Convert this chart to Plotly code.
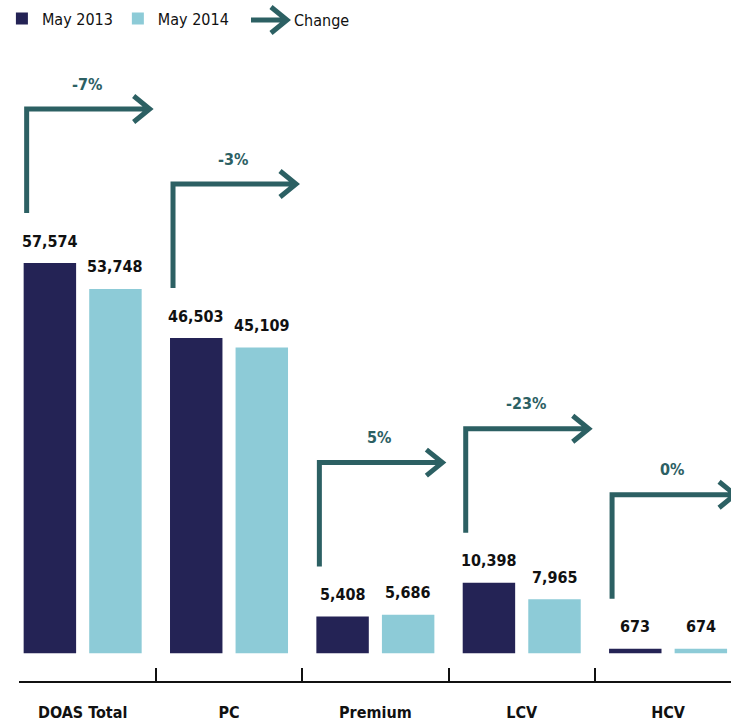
import plotly.graph_objects as go

categories = ["DOAS Total", "PC", "Premium", "LCV", "HCV"]
may_2013 = [57574, 46503, 5408, 10398, 673]
may_2014 = [53748, 45109, 5686, 7965, 674]
change_labels = ["-7%", "-3%", "5%", "-23%", "0%"]

NAVY = "#242355"
LIGHT = "#8dcbd7"
TEAL = "#2c6063"
FONT = "Liberation Sans Narrow, DejaVu Sans Condensed, Roboto, Arial Narrow, sans-serif"

x_idx = list(range(len(categories)))

fig = go.Figure()
fig.add_trace(go.Bar(x=x_idx, y=may_2013, name="May 2013", marker_color=NAVY,
                     marker_line_width=0))
fig.add_trace(go.Bar(x=x_idx, y=may_2014, name="May 2014", marker_color=LIGHT,
                     marker_line_width=0))

OFF = 0.224
ann = []
for i in x_idx:
    ann.append(dict(x=i - OFF, y=may_2013[i], text=f"<b>{may_2013[i]:,}</b>", showarrow=False,
                    yshift=22, font=dict(family=FONT, size=16, color="#111111"),
                    xref="x", yref="y"))
    ann.append(dict(x=i + OFF, y=may_2014[i], text=f"<b>{may_2014[i]:,}</b>", showarrow=False,
                    yshift=22, font=dict(family=FONT, size=16, color="#111111"),
                    xref="x", yref="y"))
    ann.append(dict(x=i, y=may_2013[i], text=f"<b>{change_labels[i]}</b>", showarrow=False,
                    yshift=179, xshift=4, font=dict(family=FONT, size=16, color=TEAL),
                    xref="x", yref="y"))

shapes = []
for i in x_idx:
    shapes.append(dict(type="path", xref="x", yref="y",
                       xsizemode="pixel", ysizemode="pixel",
                       xanchor=i, yanchor=may_2013[i],
                       path="M -56,50 V 154 H 67 M 51,167 L 67,154 L 51,141",
                       line=dict(color=TEAL, width=5)))

# legend "Change" entry
shapes.append(dict(type="path", xref="paper", yref="paper",
                   xsizemode="pixel", ysizemode="pixel",
                   xanchor=0, yanchor=1,
                   path="M 232,33 H 268 M 252,46 L 268,33 L 252,20",
                   line=dict(color=TEAL, width=5)))
ann.append(dict(xref="paper", yref="paper", x=0, y=1, xanchor="left", yanchor="middle",
                xshift=273, yshift=33, text="Change", showarrow=False,
                font=dict(family=FONT, size=16, color="#111111")))

fig.update_layout(
    width=733, height=724,
    margin=dict(l=16, r=2, t=50, b=40),
    plot_bgcolor="white", paper_bgcolor="white",
    barmode="group", bargap=0.104, bargroupgap=0.2,
    showlegend=True,
    legend=dict(orientation="h", x=-0.024, xanchor="left", y=1.082, yanchor="top",
                font=dict(family=FONT, size=16, color="#111111"),
                itemwidth=30, traceorder="normal", bgcolor="rgba(0,0,0,0)"),
    annotations=ann,
    shapes=shapes,
    font=dict(family=FONT),
)
fig.update_xaxes(range=[-0.435, 4.43], tickmode="array", tickvals=x_idx,
                 ticktext=[f"<b>{c}</b>" for c in categories], ticks="",
                 tickfont=dict(family=FONT, size=16, color="#111111"),
                 ticklabelstandoff=16,
                 showline=True, linecolor="#111111", linewidth=2,
                 showgrid=False, zeroline=False,
                 minor=dict(tickmode="linear", tick0=0.5, dtick=1, ticks="inside",
                            ticklen=13, tickcolor="#111111", tickwidth=1.5, showgrid=False))
fig.update_yaxes(range=[-4092, 88557], visible=False, showgrid=False, zeroline=False)

fig.write_html("out.html",
               config={"displayModeBar": False},
               post_script="document.documentElement.style.margin='0';"
                           "document.body.style.margin='0';"
                           "document.body.style.overflow='hidden';")
